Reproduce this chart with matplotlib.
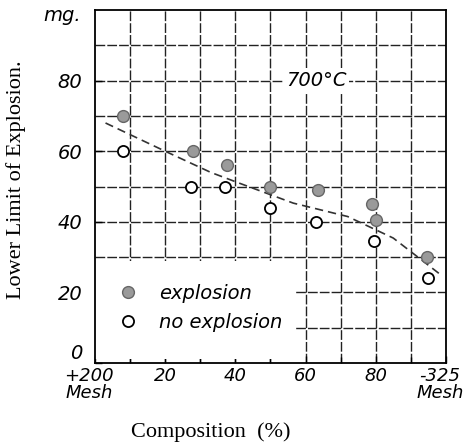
import numpy as np
from matplotlib import pyplot as plt
from matplotlib.patches import Rectangle
from matplotlib.transforms import ScaledTranslation

# explosion (filled) points
exp_x = [8, 28, 37.5, 50, 63.5, 79, 80, 94.5]
exp_y = [70, 60, 56, 50, 49, 45, 40.5, 30]
# no explosion (open) points
noexp_x = [8, 27.5, 37, 50, 63, 79.5, 95]
noexp_y = [60, 50, 50, 44, 40, 34.5, 24]
# dashed trend line drawn by hand
trend_x = [3, 20, 33, 41, 56.5, 72, 85, 98]
trend_y = [68, 60, 54, 51, 45.3, 41.5, 35.4, 25.4]

xticks = [0, 20, 40, 60, 80, 100]
xticklabels = ['+200\nMesh', '20', '40', '60', '80', '-325\nMesh']
yticks = [0, 20, 40, 60, 80]

hand = dict(family='DejaVu Sans', style='italic', fontweight='light')
serif = 'Liberation Serif'

fig = plt.figure(figsize=(4.71, 4.44), dpi=100)
ax = fig.add_axes([0.2017, 0.1824, 0.745, 0.795])
ax.set_xlim(0, 100)
ax.set_ylim(0, 100)

for v in np.arange(10, 100, 10):
    ax.axvline(v, color='#222222', lw=1.0, ls=(0, (7, 1.5)), zorder=1)
    ax.axhline(v, color='#222222', lw=1.0, ls=(0, (7, 1.5)), zorder=1)

# white area behind the legend hides the grid
ax.add_patch(Rectangle((0.0, 0.012), 0.57, 0.278, transform=ax.transAxes,
                       facecolor='white', edgecolor='none', zorder=2))

ax.plot(trend_x, trend_y, color='#333333', lw=1.2, ls=(0, (5, 3)), zorder=3)
ax.plot(exp_x, exp_y, 'o', ms=8.5, mfc='#9a9a9a', mec='#666666', mew=1,
        ls='none', zorder=4, label='explosion')
ax.plot(noexp_x, noexp_y, 'o', ms=8, mfc='white', mec='black', mew=1.3,
        ls='none', zorder=4, label='no explosion')

ax.text(63, 80, '700°C', ha='center', va='center', fontsize=14, zorder=3,
        bbox=dict(facecolor='white', edgecolor='none', pad=2), **hand)
ax.text(-0.04, 0.985, 'mg.', transform=ax.transAxes, ha='right', va='center',
        fontsize=14, **hand)

leg = ax.legend(loc='lower left', bbox_to_anchor=(0.0, 0.05), frameon=False,
                prop=dict(size=14, style='italic', weight='light'),
                handletextpad=0.6, labelspacing=0.5, borderaxespad=0.3)
for t in leg.get_texts():
    t.set_zorder(5)

ax.set_xticks(xticks)
ax.set_xticklabels(xticklabels, fontsize=13, style='italic', fontweight='light',
                   linespacing=0.95)
ax.set_xticks(np.arange(10, 100, 10), minor=True)
ax.set_yticks(yticks)
ax.set_yticklabels([str(v) for v in yticks], fontsize=14, style='italic',
                   fontweight='light')
ax.get_yticklabels()[0].set_va('bottom')
ax.tick_params(direction='in', length=5, width=1)
ax.tick_params(axis='x', pad=3)
ax.tick_params(axis='y', pad=9)
ax.tick_params(which='minor', direction='in', length=4, width=1)

# the end labels sit a little left of their ticks
shift = ScaledTranslation(-6 / 100, 0, fig.dpi_scale_trans)
for i in (0, -1):
    lab = ax.get_xticklabels()[i]
    lab.set_transform(lab.get_transform() + shift)

for s in ax.spines.values():
    s.set_linewidth(1.3)

ax.set_ylabel('Lower Limit of Explosion.', family=serif, fontsize=16)
ax.yaxis.label.set_va('center')
ax.yaxis.set_label_coords(-0.225, 0.52)
ax.set_xlabel('Composition  (%)', family=serif, fontsize=16)
ax.xaxis.label.set_va('center')
ax.xaxis.set_label_coords(0.33, -0.195)

fig.savefig('out.png', dpi=100)
